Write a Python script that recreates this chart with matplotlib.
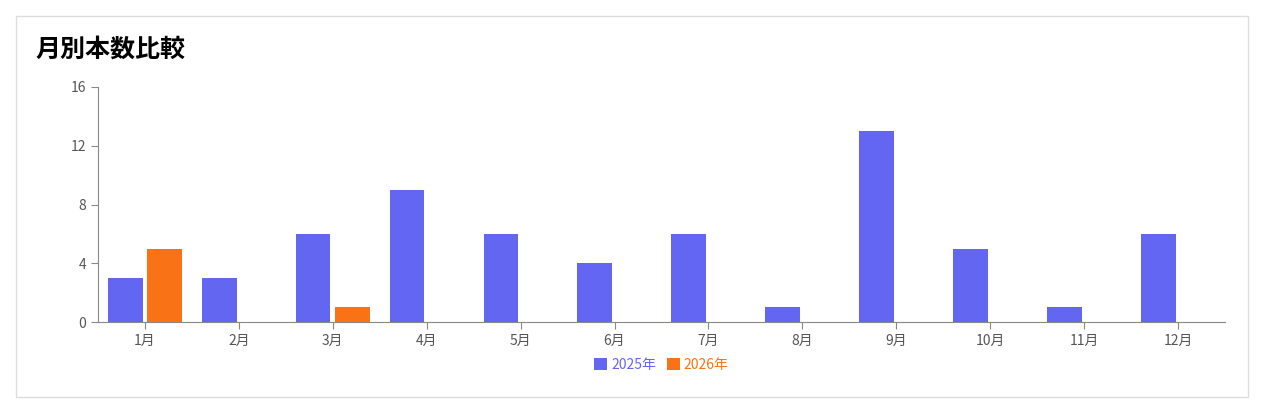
import numpy as np
import matplotlib
matplotlib.use('Agg')
import matplotlib.pyplot as plt
from matplotlib.patches import Rectangle

plt.rcParams['font.family'] = ['Noto Sans CJK JP', 'DejaVu Sans']

months = ['1月', '2月', '3月', '4月', '5月', '6月', '7月', '8月', '9月', '10月', '11月', '12月']
counts_2025 = [3, 3, 6, 9, 6, 4, 6, 1, 13, 5, 1, 6]
counts_2026 = [5, 0, 1, 0, 0, 0, 0, 0, 0, 0, 0, 0]
series_names = ['2025年', '2026年']
colors = ['#6366f1', '#f97316']

fig = plt.figure(figsize=(12.64, 4.13), dpi=100)
# card border
fig.patches.append(Rectangle((16 / 1264, 16 / 413), 1232 / 1264, 381 / 413,
                             transform=fig.transFigure, fill=False,
                             edgecolor='#dddddd', linewidth=1))
fig.text(35 / 1264, 1 - 50 / 413, '月別本数比較', fontsize=18, fontweight='bold',
         va='center', ha='left')

ax = fig.add_axes([98 / 1264, 91 / 413, 1127 / 1264, 235 / 413])
x = np.arange(len(months))
w = 0.37
ax.bar(x - w / 2 - 0.025, counts_2025, w, color=colors[0], label=series_names[0])
ax.bar(x + w / 2 + 0.025, counts_2026, w, color=colors[1], label=series_names[1])

ax.set_xlim(-0.5, len(months) - 0.5)
ax.set_ylim(0, 16)
ax.set_yticks([0, 4, 8, 12, 16])
ax.set_xticks(x)
ax.set_xticklabels(months)
for s in ['top', 'right']:
    ax.spines[s].set_visible(False)
for s in ['left', 'bottom']:
    ax.spines[s].set_color('#888888')
ax.tick_params(colors='#555555', labelsize=10, length=5)
ax.tick_params(axis='both', color='#888888')

leg = ax.legend(loc='upper center', bbox_to_anchor=(0.5, -0.1), ncol=2, frameon=False,
                fontsize=10, handlelength=0.9, handleheight=0.9, handletextpad=0.3,
                columnspacing=0.8)
for t, c in zip(leg.get_texts(), colors):
    t.set_color(c)

fig.savefig('out.png', dpi=100)
